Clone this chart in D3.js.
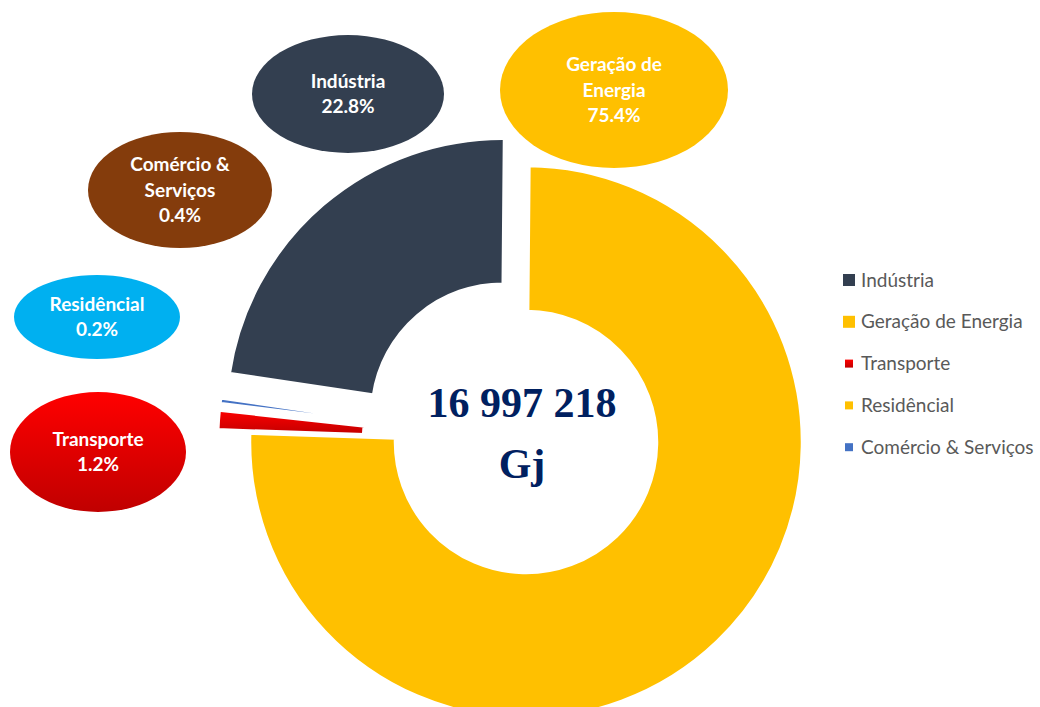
<!DOCTYPE html>
<html>
<head>
  <meta charset="utf-8">
  <title>Consumo de energia por sector</title>
  <script src="https://d3js.org/d3.v7.min.js"></script>
  <style>
    body { margin: 0; background: #fff; }
  </style>
</head>
<body>
<script>
  "use strict";

  // chart values
  var categories = ["Indústria", "Geração de Energia", "Transporte", "Residêncial", "Comércio & Serviços"];
  var shares = [22.8, 75.4, 1.2, 0.2, 0.4];
  var bubbleLines = [["Indústria"], ["Geração de", "Energia"], ["Transporte"], ["Residêncial"], ["Comércio &", "Serviços"]];
  var totalText = "16 997 218";
  var unitText = "Gj";

  // styling / layout (kept apart from the values)
  var sliceColors = ["#333F50", "#FFC000", "url(#redGrad)", "#FFC000", "#4472C4"];
  var bubbleColors = ["#333F50", "#FFC000", "url(#redGrad)", "#00B0F0", "#843C0C"];
  var explode = [36, 0, 32, 32, 32];
  var bubbles = [
    {cx: 348, cy: 94, rx: 96, ry: 59},
    {cx: 614, cy: 90, rx: 114, ry: 78},
    {cx: 98, cy: 452, rx: 88, ry: 60},
    {cx: 97, cy: 317, rx: 83, ry: 42},
    {cx: 180, cy: 190, rx: 92, ry: 58}
  ];
  var legendMarker = [12, 12, 8, 8, 8];

  var width = 1040, height = 707;
  var cx = 526, cy = 442;

  var svg = d3.select("body").append("svg")
      .attr("width", width)
      .attr("height", height);

  var defs = svg.append("defs");
  var grad = defs.append("linearGradient")
      .attr("id", "redGrad")
      .attr("x1", 0).attr("y1", 0).attr("x2", 0).attr("y2", 1);
  grad.append("stop").attr("offset", "0%").attr("stop-color", "#FF0000");
  grad.append("stop").attr("offset", "100%").attr("stop-color", "#C00000");

  var data = categories.map(function (c, i) { return {name: c, value: shares[i], i: i}; });

  // Geração starts just past 12 o'clock, so the pie begins with Indústria before it
  var deg = Math.PI / 180;
  var start = 0.5 * deg - shares[0] / 100 * 2 * Math.PI;
  var pie = d3.pie()
      .sort(null)
      .value(function (d) { return d.value; })
      .startAngle(start)
      .endAngle(start + 2 * Math.PI);

  var arc = d3.arc()
      .innerRadius(130)
      .outerRadius(277);

  var slices = svg.append("g")
      .attr("transform", "translate(" + cx + "," + cy + ")");

  slices.selectAll("path")
    .data(pie(data))
    .enter()
    .append("path")
      .attr("d", arc)
      .attr("fill", function (d) { return sliceColors[d.data.i]; })
      .attr("stroke", "#fff")
      .attr("stroke-width", 4.5)
      .attr("stroke-linejoin", "miter")
      .attr("transform", function (d) {
        var mid = (d.startAngle + d.endAngle) / 2;
        var off = explode[d.data.i];
        return "translate(" + (Math.sin(mid) * off) + "," + (-Math.cos(mid) * off) + ")";
      });

  // centre total
  var centre = svg.append("g")
      .style("font-family", "'Liberation Serif', 'DejaVu Serif', serif")
      .style("font-weight", "bold")
      .attr("fill", "#002060")
      .attr("text-anchor", "middle");
  centre.append("text").attr("x", 522).attr("y", 417).style("font-size", "42px").text(totalText);
  centre.append("text").attr("x", 522).attr("y", 478).style("font-size", "42px").text(unitText);

  // label bubbles
  var bub = svg.append("g").selectAll("g")
    .data(data)
    .enter()
    .append("g");

  bub.append("ellipse")
      .attr("cx", function (d) { return bubbles[d.i].cx; })
      .attr("cy", function (d) { return bubbles[d.i].cy; })
      .attr("rx", function (d) { return bubbles[d.i].rx; })
      .attr("ry", function (d) { return bubbles[d.i].ry; })
      .attr("fill", function (d) { return bubbleColors[d.i]; });

  bub.each(function (d) {
    var lines = bubbleLines[d.i].concat([d.value.toFixed(1) + "%"]);
    var b = bubbles[d.i];
    var lh = 25.5;
    var y0 = b.cy - (lines.length - 1) * lh / 2 + 6.5;
    d3.select(this).selectAll("text")
      .data(lines)
      .enter()
      .append("text")
        .attr("x", b.cx)
        .attr("y", function (t, k) { return y0 + k * lh; })
        .attr("text-anchor", "middle")
        .attr("fill", "#fff")
        .style("font-family", "Lato, 'Open Sans', sans-serif")
        .style("font-weight", "bold")
        .style("font-size", "19px")
        .text(function (t) { return t; });
  });

  // legend
  var legend = svg.append("g").selectAll("g")
    .data(data)
    .enter()
    .append("g")
      .attr("transform", function (d, i) { return "translate(849," + (280 + i * 41.8) + ")"; });

  legend.append("rect")
      .attr("x", function (d) { return -legendMarker[d.i] / 2; })
      .attr("y", function (d) { return -legendMarker[d.i] / 2; })
      .attr("width", function (d) { return legendMarker[d.i]; })
      .attr("height", function (d) { return legendMarker[d.i]; })
      .attr("fill", function (d) { return sliceColors[d.i]; });

  legend.append("text")
      .attr("x", 12)
      .attr("y", 6.5)
      .attr("fill", "#595959")
      .style("font-family", "Lato, 'Open Sans', sans-serif")
      .style("font-size", "19px")
      .text(function (d) { return d.name; });
</script>
</body>
</html>
